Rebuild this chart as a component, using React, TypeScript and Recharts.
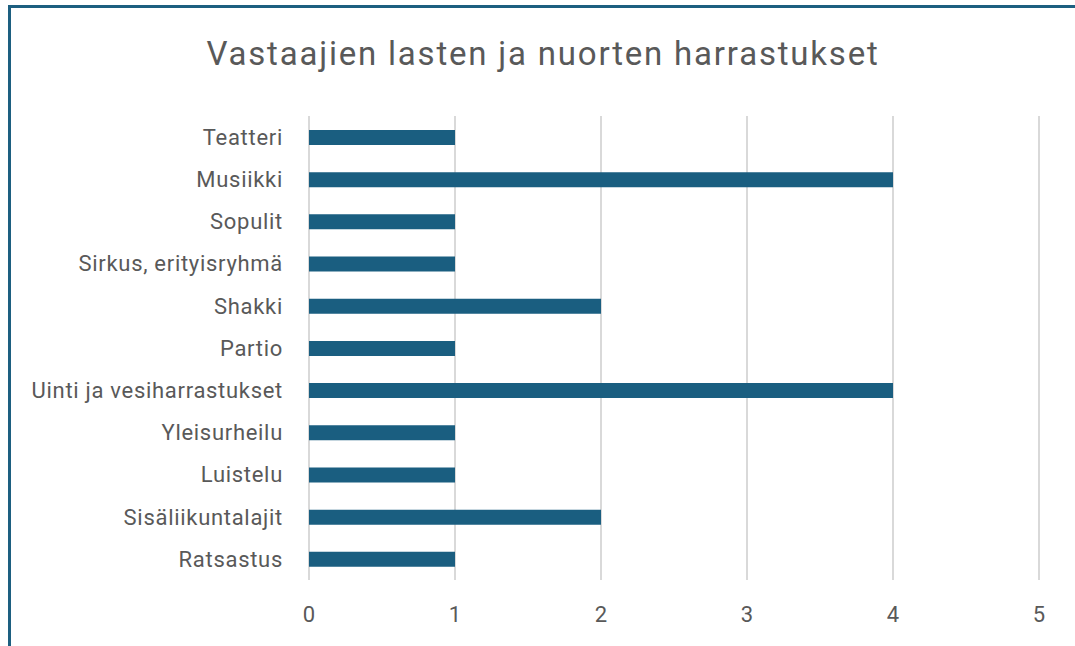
import { BarChart, Bar, XAxis, YAxis, CartesianGrid } from 'recharts'

const categories = [
  'Teatteri',
  'Musiikki',
  'Sopulit',
  'Sirkus, erityisryhmä',
  'Shakki',
  'Partio',
  'Uinti ja vesiharrastukset',
  'Yleisurheilu',
  'Luistelu',
  'Sisäliikuntalajit',
  'Ratsastus',
]

const counts = [1, 4, 1, 1, 2, 1, 4, 1, 1, 2, 1]

const xTicks = [0, 1, 2, 3, 4, 5]

const title = 'Vastaajien lasten ja nuorten harrastukset'

const data = categories.map((name, i) => ({ name, value: counts[i] }))

const FONT = "Roboto, 'Noto Sans', sans-serif"
const TEXT = '#595959'

export default function App() {
  return (
    <div style={{ position: 'fixed', left: 0, top: 0, width: 1075, height: 646, background: '#fff', overflow: 'hidden' }}>
      <div
        style={{
          position: 'absolute',
          left: 8,
          top: 5,
          width: 1200,
          height: 800,
          borderLeft: '3px solid #1d5f80',
          borderTop: '3px solid #1d5f80',
        }}
      />
      <div
        style={{
          position: 'absolute',
          left: 0,
          top: 32,
          width: 1086,
          textAlign: 'center',
          fontFamily: FONT,
          fontSize: 33,
          letterSpacing: 1.8,
          color: TEXT,
          lineHeight: '44px',
        }}
      >
        {title}
      </div>
      <div style={{ position: 'absolute', left: 0, top: 0 }}>
        <BarChart
          width={1075}
          height={646}
          data={data}
          layout="vertical"
          margin={{ top: 116, right: 36, bottom: 26, left: 0 }}
        >
          <CartesianGrid horizontal={false} stroke="#d9d9d9" strokeWidth={2} />
          <XAxis
            type="number"
            domain={[0, 5]}
            ticks={xTicks}
            axisLine={false}
            tickLine={false}
            tickMargin={20}
            height={40}
            tick={{ fill: TEXT, fontSize: 22, fontFamily: FONT }}
          />
          <YAxis
            type="category"
            dataKey="name"
            width={309}
            axisLine={false}
            tickLine={false}
            tickMargin={20}
            interval={0}
            tick={{ fill: TEXT, fontSize: 22, fontFamily: FONT, letterSpacing: 0.7 }}
          />
          <Bar dataKey="value" fill="#1a5e80" barSize={15} isAnimationActive={false} />
        </BarChart>
      </div>
    </div>
  )
}
